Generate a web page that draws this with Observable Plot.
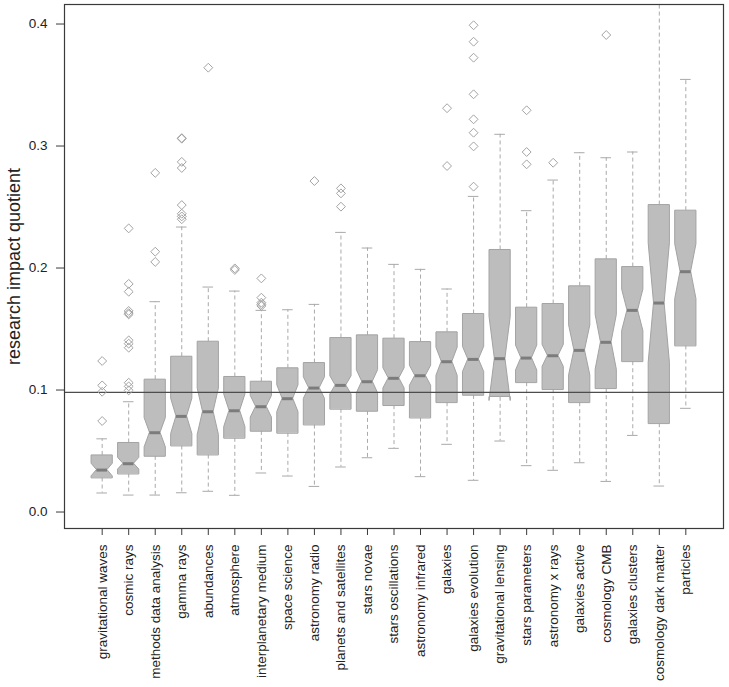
<!DOCTYPE html>
<html>
<head>
<meta charset="utf-8">
<script src="https://cdn.jsdelivr.net/npm/d3@7"></script>
<script src="https://cdn.jsdelivr.net/npm/@observablehq/plot@0.6"></script>
<style>
  html, body { margin: 0; padding: 0; background: #fff; }
  #chart { width: 729px; height: 687px; }
</style>
</head>
<body>
<div id="chart"></div>
<script>
const categories = [
  "gravitational waves", "cosmic rays", "methods data analysis", "gamma rays",
  "abundances", "atmosphere", "interplanetary medium", "space science",
  "astronomy radio", "planets and satellites", "stars novae", "stars oscillations",
  "astronomy infrared", "galaxies", "galaxies evolution", "gravitational lensing",
  "stars parameters", "astronomy x rays", "galaxies active", "cosmology CMB",
  "galaxies clusters", "cosmology dark matter", "particles"
];
const whiskerLow  = [0.0156, 0.0139, 0.0139, 0.0158, 0.0170, 0.0137, 0.0320, 0.0295, 0.0210, 0.0369, 0.0445, 0.0522, 0.0290, 0.0555, 0.0260, 0.0582, 0.0380, 0.0342, 0.0404, 0.0251, 0.0628, 0.0213, 0.0850];
const quart1      = [0.0279, 0.0311, 0.0456, 0.0541, 0.0467, 0.0604, 0.0661, 0.0645, 0.0713, 0.0842, 0.0825, 0.0872, 0.0770, 0.0896, 0.0956, 0.0940, 0.1060, 0.1003, 0.0896, 0.1011, 0.1232, 0.0724, 0.1361];
const notchLow    = [0.0292, 0.0348, 0.0530, 0.0639, 0.0632, 0.0696, 0.0774, 0.0819, 0.0927, 0.0963, 0.0973, 0.1013, 0.1035, 0.1117, 0.1148, 0.0910, 0.1160, 0.1190, 0.1120, 0.1166, 0.1483, 0.1223, 0.1745];
const medians     = [0.0344, 0.0396, 0.0650, 0.0784, 0.0822, 0.0830, 0.0863, 0.0929, 0.1016, 0.1038, 0.1068, 0.1096, 0.1117, 0.1232, 0.1251, 0.1257, 0.1262, 0.1281, 0.1325, 0.1391, 0.1653, 0.1713, 0.1970];
const notchHigh   = [0.0396, 0.0444, 0.0770, 0.0929, 0.1012, 0.0964, 0.0952, 0.1039, 0.1105, 0.1113, 0.1163, 0.1179, 0.1199, 0.1347, 0.1354, 0.1600, 0.1364, 0.1370, 0.1530, 0.1616, 0.1823, 0.2203, 0.2195];
const quart3      = [0.0464, 0.0566, 0.1085, 0.1273, 0.1396, 0.1107, 0.1068, 0.1178, 0.1221, 0.1426, 0.1448, 0.1421, 0.1393, 0.1473, 0.1623, 0.2148, 0.1675, 0.1705, 0.1850, 0.2071, 0.2008, 0.2516, 0.2470];
const whiskerHigh = [0.0600, 0.0904, 0.1724, 0.2336, 0.1844, 0.1811, 0.1653, 0.1658, 0.1702, 0.2292, 0.2164, 0.2030, 0.1989, 0.1828, 0.2587, 0.3096, 0.2470, 0.2721, 0.2945, 0.2904, 0.2951, 0.4300, 0.3546];
const outliers = [
  [0.1238, 0.1038, 0.0986, 0.0746],
  [0.2325, 0.1870, 0.1806, 0.1648, 0.1630, 0.1620, 0.1407, 0.1380, 0.1347, 0.1060, 0.1030, 0.0997],
  [0.2780, 0.2134, 0.2050],
  [0.3065, 0.3060, 0.2870, 0.2820, 0.2516, 0.2445, 0.2423, 0.2400],
  [0.3642],
  [0.1997, 0.1984],
  [0.1915, 0.1757, 0.1716, 0.1702, 0.1689],
  [],
  [0.2713],
  [0.2653, 0.2612, 0.2503],
  [], [], [],
  [0.3310, 0.2836],
  [0.3990, 0.3855, 0.3724, 0.3424, 0.3219, 0.3109, 0.2997, 0.2667],
  [],
  [0.3293, 0.2951, 0.2850],
  [0.2863],
  [],
  [0.3910],
  [], [], []
];
const referenceLine = 0.098;
const yTicks = [0, 0.1, 0.2, 0.3, 0.4];

const idx = categories.map((_, i) => i + 1);
const halfW = 0.4;

const boxPts = [];
categories.forEach((c, i) => {
  const x = i + 1;
  const pts = [
    [quart1[i], halfW], [notchLow[i], halfW], [medians[i], halfW / 2],
    [notchHigh[i], halfW], [quart3[i], halfW]
  ];
  for (const [y, w] of pts) boxPts.push({c, y, a: x - w, b: x + w});
});
const outPts = outliers.flatMap((arr, i) => arr.map(v => ({x: i + 1, y: v})));

const whiskerColor = "#a9a9a9";
const chart = Plot.plot({
  width: 729,
  height: 687,
  marginLeft: 64,
  marginRight: 6,
  marginTop: 4,
  marginBottom: 159,
  style: {fontFamily: "'Liberation Sans', Arial, sans-serif", fontSize: "13.5px", color: "#222", background: "#fff"},
  x: {type: "linear", domain: [-0.42, 24.42]},
  y: {domain: [-0.0135, 0.416]},
  marks: [
    Plot.ruleX(idx, {x: d => d, y1: d => quart3[d - 1], y2: d => whiskerHigh[d - 1], stroke: whiskerColor, strokeDasharray: "4,3", clip: true}),
    Plot.ruleX(idx, {x: d => d, y1: d => quart1[d - 1], y2: d => whiskerLow[d - 1], stroke: whiskerColor, strokeDasharray: "4,3", clip: true}),
    Plot.ruleY(idx, {y: d => whiskerHigh[d - 1], x1: d => d - 0.2, x2: d => d + 0.2, stroke: whiskerColor, clip: true}),
    Plot.ruleY(idx, {y: d => whiskerLow[d - 1], x1: d => d - 0.2, x2: d => d + 0.2, stroke: whiskerColor, clip: true}),
    Plot.areaX(boxPts, {y: "y", x1: "a", x2: "b", z: "c", fill: "#bdbdbd", stroke: "#a3a3a3", strokeWidth: 1, curve: "linear"}),
    Plot.ruleY(idx, {y: d => medians[d - 1], x1: d => d - 0.2, x2: d => d + 0.2, stroke: "#7c7c7c", strokeWidth: 3}),
    Plot.ruleY([referenceLine], {stroke: "#4d4d4d", strokeWidth: 1.3}),
    Plot.dot(outPts, {x: "x", y: "y", symbol: "diamond2", r: 4, stroke: "#a3a3a3", strokeWidth: 1, fill: "none"}),
    Plot.frame({stroke: "#3a3a3a", strokeWidth: 1.2}),
    Plot.axisY({ticks: yTicks, tickFormat: d3.format(".1f"), tickSize: 8, tickPadding: 9, stroke: "#3a3a3a",
      label: "research impact quotient", labelAnchor: "center", labelArrow: "none", labelOffset: 57, fontSize: 13.5}),
    Plot.axisX({ticks: idx, tickFormat: d => categories[d - 1], tickRotate: -90, tickSize: 7, tickPadding: 9,
      stroke: "#3a3a3a", label: null, fontSize: 13.5})
  ]
});
// y label font size
chart.querySelectorAll("g[aria-label='y-axis label'] text").forEach(t => t.style.fontSize = "18px");
document.getElementById("chart").appendChild(chart);
</script>
</body>
</html>
